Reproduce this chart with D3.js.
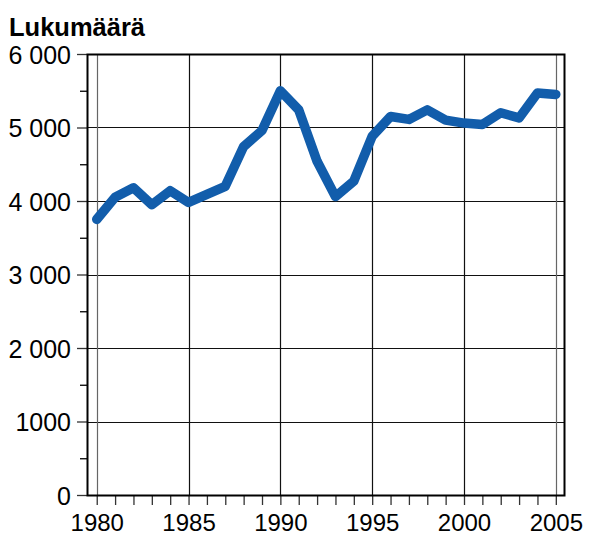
<!DOCTYPE html>
<html>
<head>
<meta charset="utf-8">
<script src="https://cdn.jsdelivr.net/npm/d3@7"></script>
<style>
    body { margin: 0; background: #fff; }
    svg { display: block; font-family: "Liberation Sans", Arial, sans-serif; }
</style>
</head>
<body>
<div id="chart"></div>
<script>
    // chart data
    const years = [1980, 1981, 1982, 1983, 1984, 1985, 1986, 1987, 1988, 1989, 1990, 1991, 1992,
        1993, 1994, 1995, 1996, 1997, 1998, 1999, 2000, 2001, 2002, 2003, 2004, 2005];
    const counts = [3750, 4050, 4180, 3950, 4140, 3980, 4090, 4200, 4740, 4960, 5500, 5240, 4540,
        4060, 4270, 4880, 5150, 5110, 5240, 5100, 5060, 5040, 5200, 5130, 5470, 5450];
    const yTicks = [0, 1000, 2000, 3000, 4000, 5000, 6000];
    const yTickLabels = ["0", "1000", "2 000", "3 000", "4 000", "5 000", "6 000"];
    const xTicks = [1980, 1985, 1990, 1995, 2000, 2005];
    const title = "Lukumäärä";

    const width = 589;
    const height = 538;
    const margin = { top: 54, right: 24, bottom: 43, left: 87 };
    const innerW = width - margin.left - margin.right;
    const innerH = height - margin.top - margin.bottom;

    const svg = d3.select("#chart")
        .append("svg")
        .attr("width", width)
        .attr("height", height);

    const g = svg.append("g")
        .attr("transform", `translate(${margin.left},${margin.top})`);

    const x = d3.scaleLinear()
        .domain([1979.47, 2005.5])
        .range([0, innerW]);

    const y = d3.scaleLinear()
        .domain([0, 6000])
        .range([innerH, 0]);

    // horizontal gridlines
    g.append("g")
        .selectAll("line")
        .data(yTicks)
        .enter()
        .append("line")
        .attr("x1", 0)
        .attr("x2", innerW)
        .attr("y1", d => Math.round(y(d)) + 0.5)
        .attr("y2", d => Math.round(y(d)) + 0.5)
        .attr("stroke", "#111")
        .attr("stroke-width", 1.2);

    // vertical gridlines
    g.append("g")
        .selectAll("line")
        .data(xTicks)
        .enter()
        .append("line")
        .attr("x1", d => Math.round(x(d)) + 0.5)
        .attr("x2", d => Math.round(x(d)) + 0.5)
        .attr("y1", 0)
        .attr("y2", innerH)
        .attr("stroke", d => (d === 1980 || d === 2005) ? "#666" : "#111")
        .attr("stroke-width", 1.2);

    // left axis with minor ticks
    const yAxis = d3.axisLeft(y)
        .tickValues(yTicks)
        .tickSize(10)
        .tickFormat((d, i) => yTickLabels[i]);

    const yAxisG = g.append("g").call(yAxis);
    yAxisG.select(".domain").remove();
    yAxisG.selectAll("line").attr("stroke", "#333").attr("stroke-width", 1.3);
    yAxisG.selectAll("text")
        .attr("x", -16)
        .attr("dy", "0.36em")
        .style("font-size", "25px")
        .attr("fill", "#000");

    g.append("g")
        .call(d3.axisLeft(y).tickValues([500, 1500, 2500, 3500, 4500, 5500]).tickSize(7).tickFormat(""))
        .call(a => a.select(".domain").remove())
        .selectAll("line").attr("stroke", "#000").attr("stroke-width", 1.3);

    // bottom axis, one tick per year
    g.append("g")
        .attr("transform", `translate(0,${innerH})`)
        .call(d3.axisBottom(x).tickValues(years).tickSize(10).tickFormat(""))
        .call(a => a.select(".domain").remove())
        .selectAll("line").attr("stroke", "#333").attr("stroke-width", 1.3);

    g.append("g")
        .attr("transform", `translate(0,${innerH})`)
        .call(d3.axisBottom(x).tickValues(xTicks).tickSize(0).tickPadding(19).tickFormat(d3.format("d")))
        .call(a => a.select(".domain").remove())
        .selectAll("text")
        .style("font-size", "24px")
        .attr("fill", "#000");

    // frame
    g.append("rect")
        .attr("x", 0.5)
        .attr("y", 0.5)
        .attr("width", innerW - 1)
        .attr("height", innerH)
        .attr("fill", "none")
        .attr("stroke", "#000")
        .attr("stroke-width", 2);

    // data line
    const line = d3.line()
        .x((d, i) => x(years[i]))
        .y(d => y(d));

    g.append("path")
        .datum(counts)
        .attr("fill", "none")
        .attr("stroke", "#125dab")
        .attr("stroke-width", 9.5)
        .attr("stroke-linejoin", "round")
        .attr("stroke-linecap", "round")
        .attr("d", line);

    // title
    svg.append("text")
        .attr("x", 9)
        .attr("y", 36)
        .style("font-size", "25.5px")
        .style("font-weight", "bold")
        .text(title);
</script>
</body>
</html>
